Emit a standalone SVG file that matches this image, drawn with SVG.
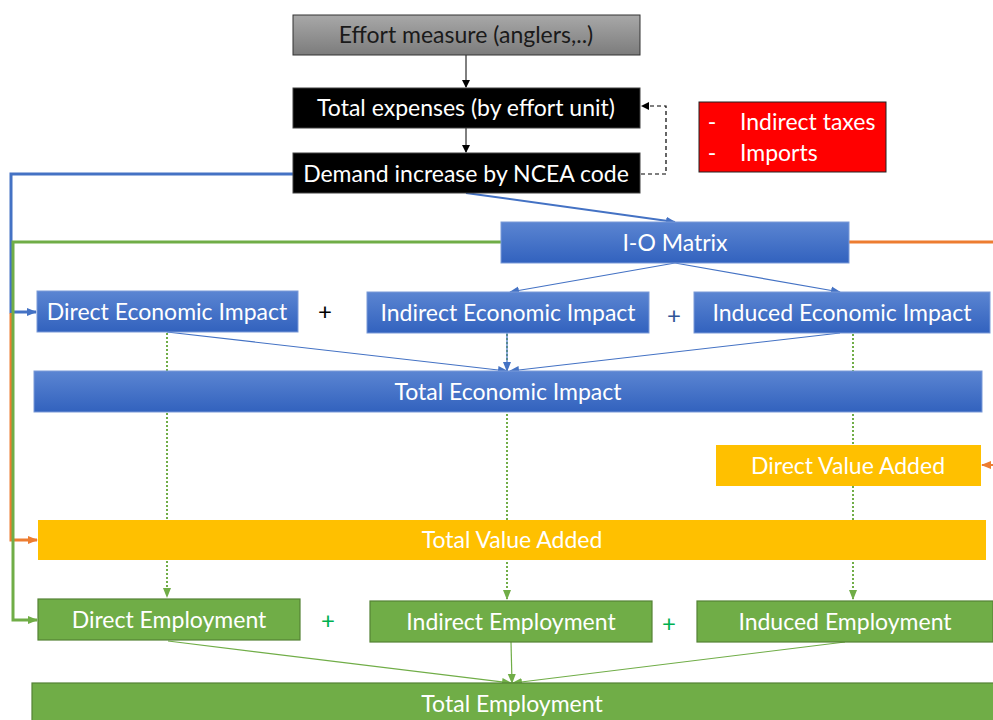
<svg xmlns="http://www.w3.org/2000/svg" width="993" height="720" viewBox="0 0 993 720">
<defs>
<linearGradient id="gBlue" x1="0" y1="0" x2="0" y2="1"><stop offset="0" stop-color="#5b85d2"/><stop offset="1" stop-color="#3262be"/></linearGradient>
<linearGradient id="gGray" x1="0" y1="0" x2="0" y2="1"><stop offset="0" stop-color="#a8a8a8"/><stop offset="1" stop-color="#7c7c7c"/></linearGradient>
<marker id="aBlk" markerWidth="8" markerHeight="8" refX="7" refY="4" orient="auto" markerUnits="userSpaceOnUse"><path d="M0,0 L8,4 L0,8 Z" fill="#000"/></marker>
<marker id="aBlu" markerWidth="10" markerHeight="10" refX="9" refY="5" orient="auto" markerUnits="userSpaceOnUse"><path d="M0,1 L10,5 L0,9 Z" fill="#4472c4"/></marker>
<marker id="aGrn" markerWidth="10" markerHeight="10" refX="9" refY="5" orient="auto" markerUnits="userSpaceOnUse"><path d="M0,1 L10,5 L0,9 Z" fill="#70ad47"/></marker>
<marker id="aOrg" markerWidth="10" markerHeight="10" refX="9" refY="5" orient="auto" markerUnits="userSpaceOnUse"><path d="M0,1 L10,5 L0,9 Z" fill="#ed7d31"/></marker>
</defs>
<style>
text{font-family:Lato,"Open Sans","Liberation Sans",sans-serif;font-size:23px;fill:#fff;text-anchor:middle;dominant-baseline:central}
.plus{font-size:24px}
.blue{fill:url(#gBlue);stroke:#7a9ad8;stroke-width:1}
.green{fill:#70ad47;stroke:#548235;stroke-width:1.2}
.gold{fill:#ffc000}
.blk{fill:#000;stroke:#404040;stroke-width:1}
.dot{stroke:#70ad47;stroke-width:2;stroke-dasharray:2,2;fill:none}
.thinb{stroke:#4472c4;stroke-width:1.2;fill:none}
.thing{stroke:#70ad47;stroke-width:1.2;fill:none}
</style>
<g id="connectors">
<line x1="167" y1="333" x2="167" y2="597" class="dot" marker-end="url(#aGrn)"/>
<line x1="507" y1="334" x2="507" y2="599" class="dot" marker-end="url(#aGrn)"/>
<line x1="853" y1="334" x2="853" y2="599" class="dot" marker-end="url(#aGrn)"/>
<line x1="466" y1="55" x2="466" y2="87" stroke="#000" stroke-width="1" marker-end="url(#aBlk)"/>
<line x1="466" y1="128" x2="466" y2="152" stroke="#000" stroke-width="1" marker-end="url(#aBlk)"/>
<polyline points="641,174 666,174 666,106 642,106" fill="none" stroke="#000" stroke-width="1.2" stroke-dasharray="4,3" marker-end="url(#aBlk)"/>
<line x1="466" y1="193" x2="675" y2="222" stroke="#4472c4" stroke-width="2" marker-end="url(#aBlu)"/>
<polyline points="293,174 11,174 11,312 36,312" fill="none" stroke="#4472c4" stroke-width="3" marker-end="url(#aBlu)"/>
<polyline points="11,313 11,540 37,540" fill="none" stroke="#ed7d31" stroke-width="3" marker-end="url(#aOrg)"/>
<polyline points="501,242 13,242 13,620 37,620" fill="none" stroke="#70ad47" stroke-width="3" marker-end="url(#aGrn)"/>
<line x1="849" y1="242" x2="993" y2="242" stroke="#ed7d31" stroke-width="3"/>
<line x1="993" y1="465" x2="982" y2="465" stroke="#ed7d31" stroke-width="2" marker-end="url(#aOrg)"/>
<line x1="675" y1="263" x2="510" y2="292" class="thinb" marker-end="url(#aBlu)"/>
<line x1="675" y1="263" x2="840" y2="292" class="thinb" marker-end="url(#aBlu)"/>
<line x1="167" y1="332" x2="507" y2="371" class="thinb" marker-end="url(#aBlu)"/>
<line x1="507" y1="333" x2="507" y2="371" class="thinb" stroke-width="2" marker-end="url(#aBlu)"/>
<line x1="840" y1="333" x2="510" y2="371" class="thinb" marker-end="url(#aBlu)"/>
<line x1="168" y1="641" x2="511" y2="683" class="thing" marker-end="url(#aGrn)"/>
<line x1="511" y1="642" x2="512" y2="683" class="thing" marker-end="url(#aGrn)"/>
<line x1="845" y1="642" x2="513" y2="683" class="thing" marker-end="url(#aGrn)"/>
</g>
<g id="effort"><rect x="293" y="15" width="347" height="40" fill="url(#gGray)" stroke="#333" stroke-width="1"/><text x="466" y="34" style="fill:#1a1a1a">Effort measure (anglers,..)</text></g>
<g id="expenses"><rect x="293" y="88" width="347" height="40" class="blk"/><text x="466" y="107">Total expenses (by effort unit)</text></g>
<g id="demand"><rect x="293" y="153" width="347" height="40" class="blk"/><text x="466" y="173">Demand increase by NCEA code</text></g>
<g id="exclusions"><rect x="699" y="102" width="187" height="70" fill="#ff0000" stroke="#222" stroke-width="1"/><text x="712" y="121">-</text><text x="740" y="121" style="text-anchor:start">Indirect taxes</text><text x="712" y="152">-</text><text x="740" y="152" style="text-anchor:start">Imports</text></g>
<g id="io"><rect x="501" y="222" width="348" height="41" class="blue"/><text x="675" y="242">I-O Matrix</text></g>
<g id="directEcon"><rect x="37" y="291" width="261" height="41" class="blue"/><text x="167" y="311">Direct Economic Impact</text></g>
<g id="plus1"><text x="325" y="310" class="plus" style="fill:#000">+</text></g>
<g id="indirectEcon"><rect x="367" y="292" width="282" height="41" class="blue"/><text x="508" y="312">Indirect Economic Impact</text></g>
<g id="plus2"><text x="674" y="314" class="plus" style="fill:#2f5597">+</text></g>
<g id="inducedEcon"><rect x="694" y="292" width="296" height="41" class="blue"/><text x="842" y="312">Induced Economic Impact</text></g>
<g id="totalEcon"><rect x="34" y="371" width="948" height="41" class="blue"/><text x="508" y="391">Total Economic Impact</text></g>
<g id="directVA"><rect x="716" y="445" width="265" height="41" class="gold"/><text x="848" y="465">Direct Value Added</text></g>
<g id="totalVA"><rect x="38" y="520" width="948" height="40" class="gold"/><text x="512" y="539">Total Value Added</text></g>
<g id="directEmp"><rect x="38" y="599" width="262" height="41" class="green"/><text x="169" y="619">Direct Employment</text></g>
<g id="plus3"><text x="328" y="619" class="plus" style="fill:#00b050">+</text></g>
<g id="indirectEmp"><rect x="370" y="601" width="282" height="41" class="green"/><text x="511" y="621">Indirect Employment</text></g>
<g id="plus4"><text x="669" y="622" class="plus" style="fill:#00b050">+</text></g>
<g id="inducedEmp"><rect x="697" y="601" width="296" height="41" class="green"/><text x="845" y="621">Induced Employment</text></g>
<g id="totalEmp"><rect x="32" y="683" width="962" height="40" class="green"/><text x="512" y="703">Total Employment</text></g>
</svg>
